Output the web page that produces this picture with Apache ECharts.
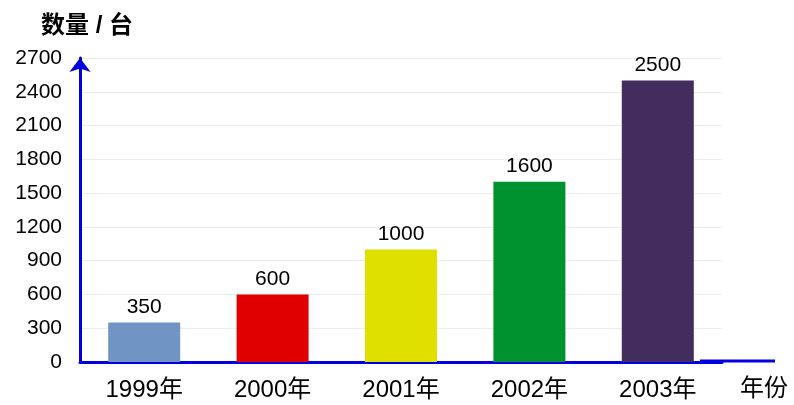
<!DOCTYPE html>
<html><head><meta charset="utf-8">
<script src="https://cdn.jsdelivr.net/npm/echarts@6/dist/echarts.min.js"></script>
<style>html,body{margin:0;padding:0;background:#fff}#c{width:794px;height:405px}</style>
</head><body><div id="c"></div>
<script>
var categories = ['1999年','2000年','2001年','2002年','2003年'];
var values = [350, 600, 1000, 1600, 2500];
var barColors = ['#7094c4','#e00000','#e0e000','#00922e','#432d5f'];
var yTicks = {min:0, max:2700, interval:300};
var FONT = '"Liberation Sans", Arial, "Noto Sans CJK SC", sans-serif';

var chart = echarts.init(document.getElementById('c'));
chart.setOption({
  animation:false,
  textStyle:{fontFamily:FONT},
  grid:{left:80, right:72, top:58, bottom:43},
  xAxis:{
    type:'category', data:categories,
    name:'年份', nameLocation:'end', nameGap:18,
    nameTextStyle:{color:'#000', fontSize:24, fontFamily:FONT, verticalAlign:'top', padding:[15,0,0,0]},
    axisLine:{show:true, lineStyle:{color:'#0000e0', width:3}},
    axisTick:{show:false},
    axisLabel:{color:'#000', fontSize:24, margin:16, fontFamily:FONT}
  },
  yAxis:{
    type:'value', min:yTicks.min, max:yTicks.max, interval:yTicks.interval,
    name:'数量 / 台', nameLocation:'end', nameGap:20,
    nameTextStyle:{color:'#000', fontSize:24, fontWeight:'bold', fontFamily:FONT, padding:[0,0,0,14]},
    axisLine:{show:true, symbol:['none','arrow'], symbolSize:[16,14], lineStyle:{color:'#0000e0', width:3}},
    axisTick:{show:false},
    axisLabel:{color:'#000', fontSize:21, margin:18, fontFamily:FONT, formatter:function(v){return String(v);}},
    splitLine:{show:true, lineStyle:{color:'#ececec', width:1}}
  },
  graphic:[{
    type:'line', z:10,
    shape:{x1:700, y1:361, x2:775, y2:361},
    style:{stroke:'#0000e0', lineWidth:3}
  }],
  series:[{
    type:'bar', barWidth:72,
    data:values.map(function(v,i){return {value:v, itemStyle:{color:barColors[i]}};}),
    label:{show:true, position:'top', distance:5, color:'#000', fontSize:21, fontFamily:FONT}
  }]
});
</script></body></html>
